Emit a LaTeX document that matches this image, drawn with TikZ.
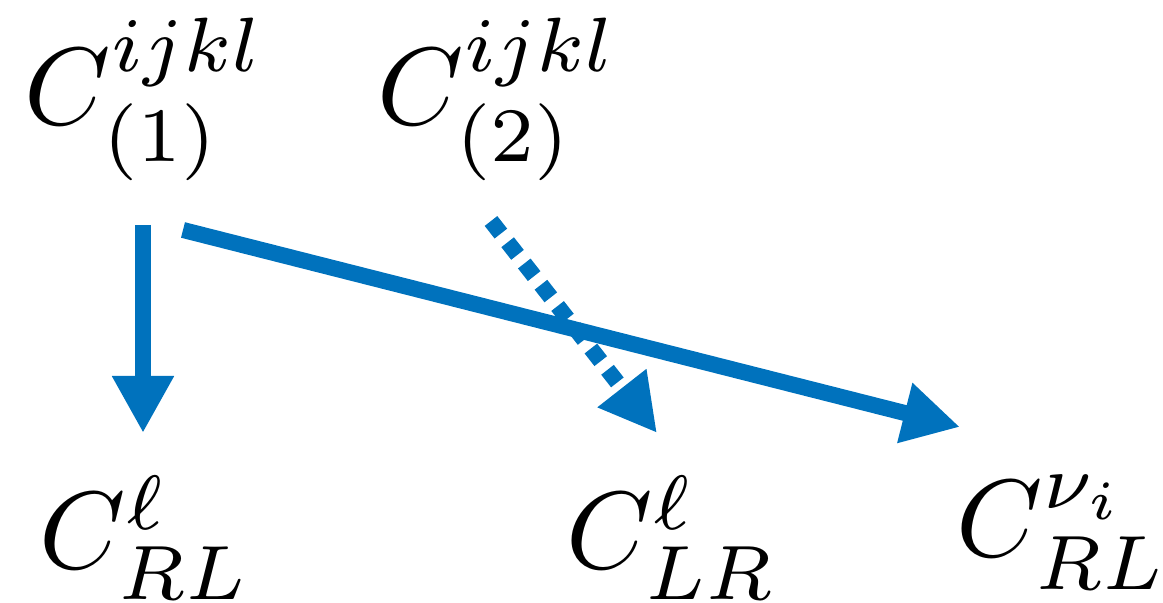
\documentclass[tikz,border=0pt]{standalone}
\usepackage{graphicx}
\usepackage{tikz}
\usetikzlibrary{arrows.meta}
\definecolor{flow}{HTML}{0072BD}

\begin{document}
\begin{tikzpicture}[x=0.5pt,y=0.5pt,
  lbl/.style={anchor=base west,inner sep=0},
  arr/.style={draw=flow,line width=8pt,-{Triangle[width=29pt,length=28.5pt]}},
  dots/.style={arr,dash pattern=on 8pt off 5.5pt}]
  \useasboundingbox (0,0) rectangle (1163,603);
  % operators at the high scale
  \node[lbl] (c1) at (24.5,478.5) {\scalebox{5.5}{$C^{ijkl}_{(1)}$}};
  \node[lbl] (c2) at (377.5,478.5) {\scalebox{5.5}{$C^{ijkl}_{(2)}$}};
  % low-energy coefficients
  \node[lbl] (rl) at (39.5,34) {\scalebox{5.5}{$C^{\ell}_{RL}$}};
  \node[lbl] (lr) at (566.5,34) {\scalebox{5.5}{$C^{\ell}_{LR}$}};
  \node[lbl] (nu) at (956.5,46) {\scalebox{5.5}{$C^{\nu_i}_{RL}$}};
  \draw[arr] ([shift={(118.5,-100.5)}]c1.base west) -- ([shift={(103.5,136)}]rl.base west);
  \draw[arr] ([shift={(158.5,-105.5)}]c1.base west) -- ([shift={(3.5,130)}]nu.base west);
  \draw[dots] ([shift={(113.5,-96.5)}]c2.base west) -- ([shift={(90.5,136)}]lr.base west);
\end{tikzpicture}
\end{document}
